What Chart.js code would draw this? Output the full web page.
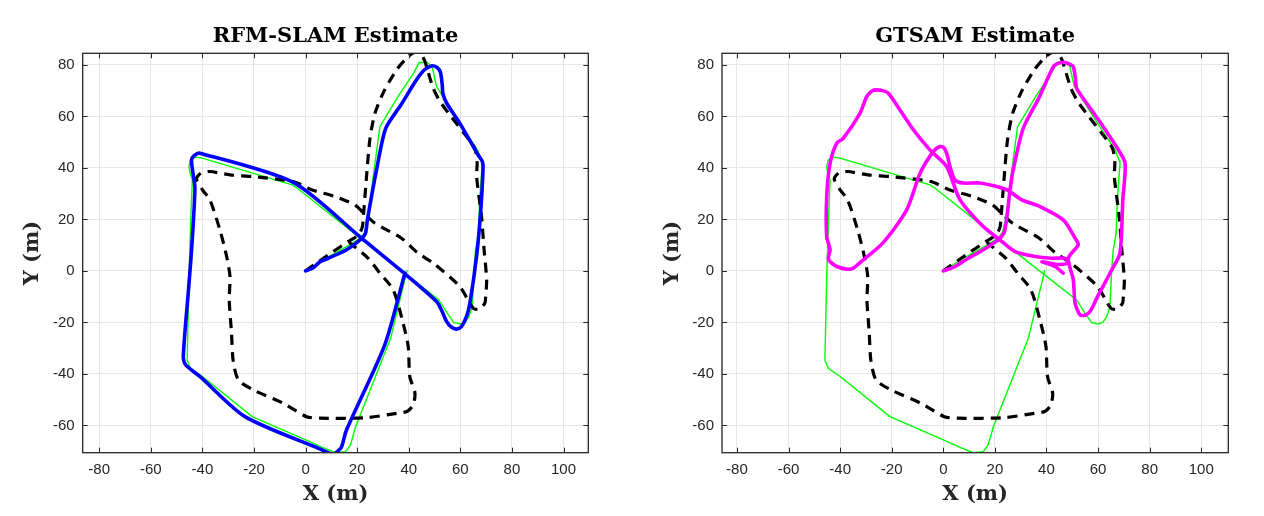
<!DOCTYPE html>
<html>
<head>
<meta charset="utf-8">
<title>RFM-SLAM / GTSAM</title>
<script src="https://cdn.jsdelivr.net/npm/chart.js@4.4.1/dist/chart.umd.min.js"></script>
<style>
  body { margin:0; background:#fff; }
  .panel { position:absolute; top:0; width:632px; height:516px; }
</style>
</head>
<body>
<div class="panel" style="left:0"><canvas id="grafRfm"></canvas></div>
<div class="panel" style="left:632px"><canvas id="grafGtsam"></canvas></div>
<script>
// ticks de los ejes
const xTicks = [-80, -60, -40, -20, 0, 20, 40, 60, 80, 100];
const yTicks = [-60, -40, -20, 0, 20, 40, 60, 80];

// trayectoria real (verde), igual en los dos paneles
const groundTruth = [
  [0,0],[8,5],[16,9.5],[21,12.5],[23,15],[24.5,22],[26,35],[28.8,56],[36,68],[42,77],
  [44,80.9],[47.2,80.9],[49.1,79.3],[50,75],[50.8,71.6],[54,66.5],[60,57],[66.6,47],
  [68.2,43],[68.5,41.8],[67.5,28],[67,14.6],[65.9,8.2],[65.3,0.4],[64.6,-13.9],[63.4,-17.7],
  [62,-19.8],[60.1,-20.6],[57.5,-20.1],[54.9,-16.4],[51.7,-11.3],[28.5,6.9],[-3.2,32.1],
  [-5.2,33.4],[-40.1,43.8],[-42.7,44.2],[-44.7,43],[-45.2,40.5],[-45,39],[-43.9,35.3],
  [-44.5,20],[-45.2,-2.2],[-45.9,-34.6],[-44.6,-37.8],[-40,-41],[-20.7,-56.6],[-1.3,-65],
  [6.5,-68.5],[11.6,-70.6],[15.5,-70.2],[17.4,-67.6],[19.4,-60.5],[33,-26.1],[39.4,0.4]
];

// odometría (negro discontinuo)
const odometry = [
  [0,0],[8.8,6.2],[16.5,11.4],[20.5,14],[22,17],[22.3,19.8],[23.5,35],[24.9,50.9],[26.9,61.2],
  [30.5,70],[35.3,78.1],[39,82.5],[42,84.8],[44.5,84.5],[46.2,81.5],[46.9,79.3],[49.5,70.9],
  [52,66],[55.9,60.6],[61,54],[65.6,47.6],[66.5,42],[66.3,36.6],[68.2,21.1],[69.2,8.2],
  [70.2,-3.5],[69.8,-10],[69.5,-12.5],[67.5,-14.8],[65,-14.5],[59.8,-6.1],[49.5,3],[43.6,6.9],
  [37.2,12.7],[26.9,18.5],[22.5,22.5],[19.1,25.6],[11.4,28.9],[2.3,31.5],[-4.8,34.7],
  [-20.3,36.6],[-29.3,37.3],[-37.1,38.6],[-40.5,38],[-42,36.5],[-42.2,35.3],[-40,31.5],
  [-37.1,27.6],[-33.2,15.9],[-30.6,5.6],[-29.3,-2.2],[-29.6,-11.3],[-28.7,-24.2],[-28.1,-34.6],
  [-26.1,-42.3],[-20.3,-46.2],[-8.7,-51.4],[0.4,-56.6],[5.5,-57.2],[23.6,-57],[35.3,-55.3],
  [39.5,-54.5],[41.7,-52],[42.4,-47.5],[40.4,-41],[39.8,-29.4],[37.8,-20.3],[34,-7.4],
  [28.8,-0.9],[24.3,4.9],[17,11]
];

// estimación RFM-SLAM (azul)
const rfmSlam = [
  [0,0],[3,1.2],[5.5,3.5],[8.8,4.9],[15.9,8.2],[21.7,12.5],[23.2,14.5],[24,20],[27.5,39.2],
  [31.1,55.4],[37,64.5],[43,74.2],[46,78],[48.8,79.6],[51,79],[52.3,77],[53,72],[53.2,69],
  [54.7,65.1],[60,57],[66.9,45],[68.5,42.5],[68.8,39.9],[67.8,22],[66.2,5],[63.7,-12.5],
  [62.4,-17.7],[60.5,-21.5],[58.5,-22.6],[56.5,-21.8],[54.7,-19.7],[52.8,-15.5],[50.8,-11.9],
  [39.1,-1.6],[21.7,12.7],[-4.6,34.3],[-41,45.7],[-43.2,44.8],[-44.2,43.1],[-43.8,39],
  [-42.9,32.1],[-44.2,8.2],[-45.5,-8.7],[-47.4,-33.3],[-46.5,-36.5],[-41,-41],[-23.5,-56.6],
  [5.5,-69.1],[10.7,-71.2],[13,-69.5],[14,-68.2],[15.9,-61.7],[30.7,-28.7],[38.5,-0.9]
];

// estimación GTSAM (magenta)
const gtsam = [
  [0,0],[4.5,1.7],[9.7,4.9],[16,8.5],[22,12.7],[23.9,15.9],[25.9,31.5],[27.1,39.2],[31,55.4],
  [37,67],[42.7,79.3],[45,80.8],[47.2,80.9],[49.5,80],[50.4,79.3],[51.2,75],[51.7,70.9],
  [55.6,65.1],[62,56],[67.9,47],[70.5,41.8],[69.6,27.6],[68.5,6.9],[65.3,0.4],[59.5,-10.6],
  [56.9,-15.8],[55,-17.2],[53,-17.1],[51.1,-12.5],[50.4,-3.5],[48.5,4.9],[52.3,10.1],
  [51.1,12.7],[46.5,19.8],[37.5,25],[30.4,27.6],[24.6,31.5],[14.2,34.1],[7.8,34.1],[4.5,35.3],
  [2.6,40.5],[1.5,45],[0.3,47.8],[-1.3,48.3],[-3.9,46.3],[-9,37.9],[-14.2,23.7],[-23.3,11],
  [-32.3,3.2],[-35,1],[-37.5,0.7],[-41.3,1.7],[-43.8,3.5],[-44.6,4.9],[-43.9,8.2],[-45.2,13.3],
  [-45.2,28.9],[-43.9,41.8],[-41.3,49.6],[-38.8,51.5],[-32.3,61.2],[-29.7,67.7],[-27.5,70],
  [-25.8,70.3],[-23.5,70],[-21.3,69],[-16.8,62.5],[-11.6,54.8],[-5.2,47],[1.3,40.5],[6.5,27.6],
  [15.5,17.2],[22,12],[27.8,7.5],[35.6,5.6],[42,4.9],[47.2,4.9],[48.5,3],[44,2.5],[38.2,3.6],
  [43.3,1.7],[46.5,-0.9]
];

const yRange = [-70.6, 84.5];

// marco con ticks hacia dentro (estilo MATLAB)
const frame = {
  id: 'frame',
  afterDraw (chart) {
    const { ctx, chartArea: a, scales: { x, y } } = chart;
    ctx.save();
    ctx.strokeStyle = '#262626';
    ctx.lineWidth = 1;
    ctx.beginPath();
    x.ticks.forEach(t => {
      const p = Math.round(x.getPixelForValue(t.value)) + 0.5;
      ctx.moveTo(p, a.bottom); ctx.lineTo(p, a.bottom - 5);
      ctx.moveTo(p, a.top); ctx.lineTo(p, a.top + 5);
    });
    y.ticks.forEach(t => {
      const p = Math.round(y.getPixelForValue(t.value)) + 0.5;
      ctx.moveTo(a.left, p); ctx.lineTo(a.left + 5, p);
      ctx.moveTo(a.right, p); ctx.lineTo(a.right - 5, p);
    });
    ctx.stroke();
    ctx.lineWidth = 1.3;
    ctx.strokeRect(a.left, a.top, a.right - a.left, a.bottom - a.top);
    ctx.restore();
  }
};

const toXY = arr => arr.map(([x, y]) => ({ x, y }));

function renderTrajectory (canvasId, title, estimate, color, lay) {
  const tickFont = { family: '"Liberation Sans", Arial, sans-serif', size: 15 };
  const labFont = { family: '"DejaVu Serif", serif', size: 21, weight: 'bold', lineHeight: 1.2 };
  new Chart(document.getElementById(canvasId), {
    type: 'scatter',
    data: {
      datasets: [
        { data: toXY(estimate), showLine: true, borderColor: color, borderWidth: 3.6,
          pointRadius: 0, tension: 0.25, borderJoinStyle: 'round', borderCapStyle: 'round' },
        { data: toXY(odometry), showLine: true, borderColor: '#000', borderWidth: 3.2,
          borderDash: [10, 7], pointRadius: 0, tension: 0.25 },
        { data: toXY(groundTruth), showLine: true, borderColor: '#00ff00', borderWidth: 1.4,
          pointRadius: 0, tension: 0 }
      ]
    },
    options: {
      responsive: true, maintainAspectRatio: false, animation: false,
      layout: { padding: { left: 0, right: lay.padRight, top: 0, bottom: 0 } },
      plugins: {
        legend: { display: false },
        tooltip: { enabled: false },
        title: { display: true, text: title, color: '#000', fullSize: false,
                 font: labFont, padding: { top: 24, bottom: 4.1 } }
      },
      scales: {
        x: {
          type: 'linear', min: lay.xMin, max: lay.xMax,
          afterBuildTicks: s => { s.ticks = xTicks.map(v => ({ value: v })); },
          afterFit: s => { s.height = 63.3; },
          grid: { color: '#e6e6e6', drawTicks: false },
          border: { display: false },
          ticks: { autoSkip: false, maxRotation: 0, padding: 8, color: '#262626', font: tickFont },
          title: { display: true, text: 'X (m)', color: '#262626', font: labFont, padding: { top: 0, bottom: 9 } }
        },
        y: {
          type: 'linear', min: yRange[0], max: yRange[1],
          afterBuildTicks: s => { s.ticks = yTicks.map(v => ({ value: v })); },
          afterFit: s => { s.width = lay.yAxisW; },
          grid: { color: '#e6e6e6', drawTicks: false },
          border: { display: false },
          ticks: { autoSkip: false, padding: 8, color: '#262626', font: tickFont },
          title: { display: true, text: 'Y (m)', color: '#262626', font: labFont, padding: { top: lay.yTitlePad, bottom: 0 } }
        }
      }
    },
    plugins: [frame]
  });
}

renderTrajectory('grafRfm', 'RFM-SLAM Estimate', rfmSlam, '#0000ff',
  { yAxisW: 82.7, padRight: 43.7, yTitlePad: 19.5, xMin: -86.4, xMax: 109.6 });
renderTrajectory('grafGtsam', 'GTSAM Estimate', gtsam, '#ff00ff',
  { yAxisW: 90, padRight: 35.7, yTitlePad: 27.5, xMin: -85.8, xMax: 110.5 });
</script>
</body>
</html>
